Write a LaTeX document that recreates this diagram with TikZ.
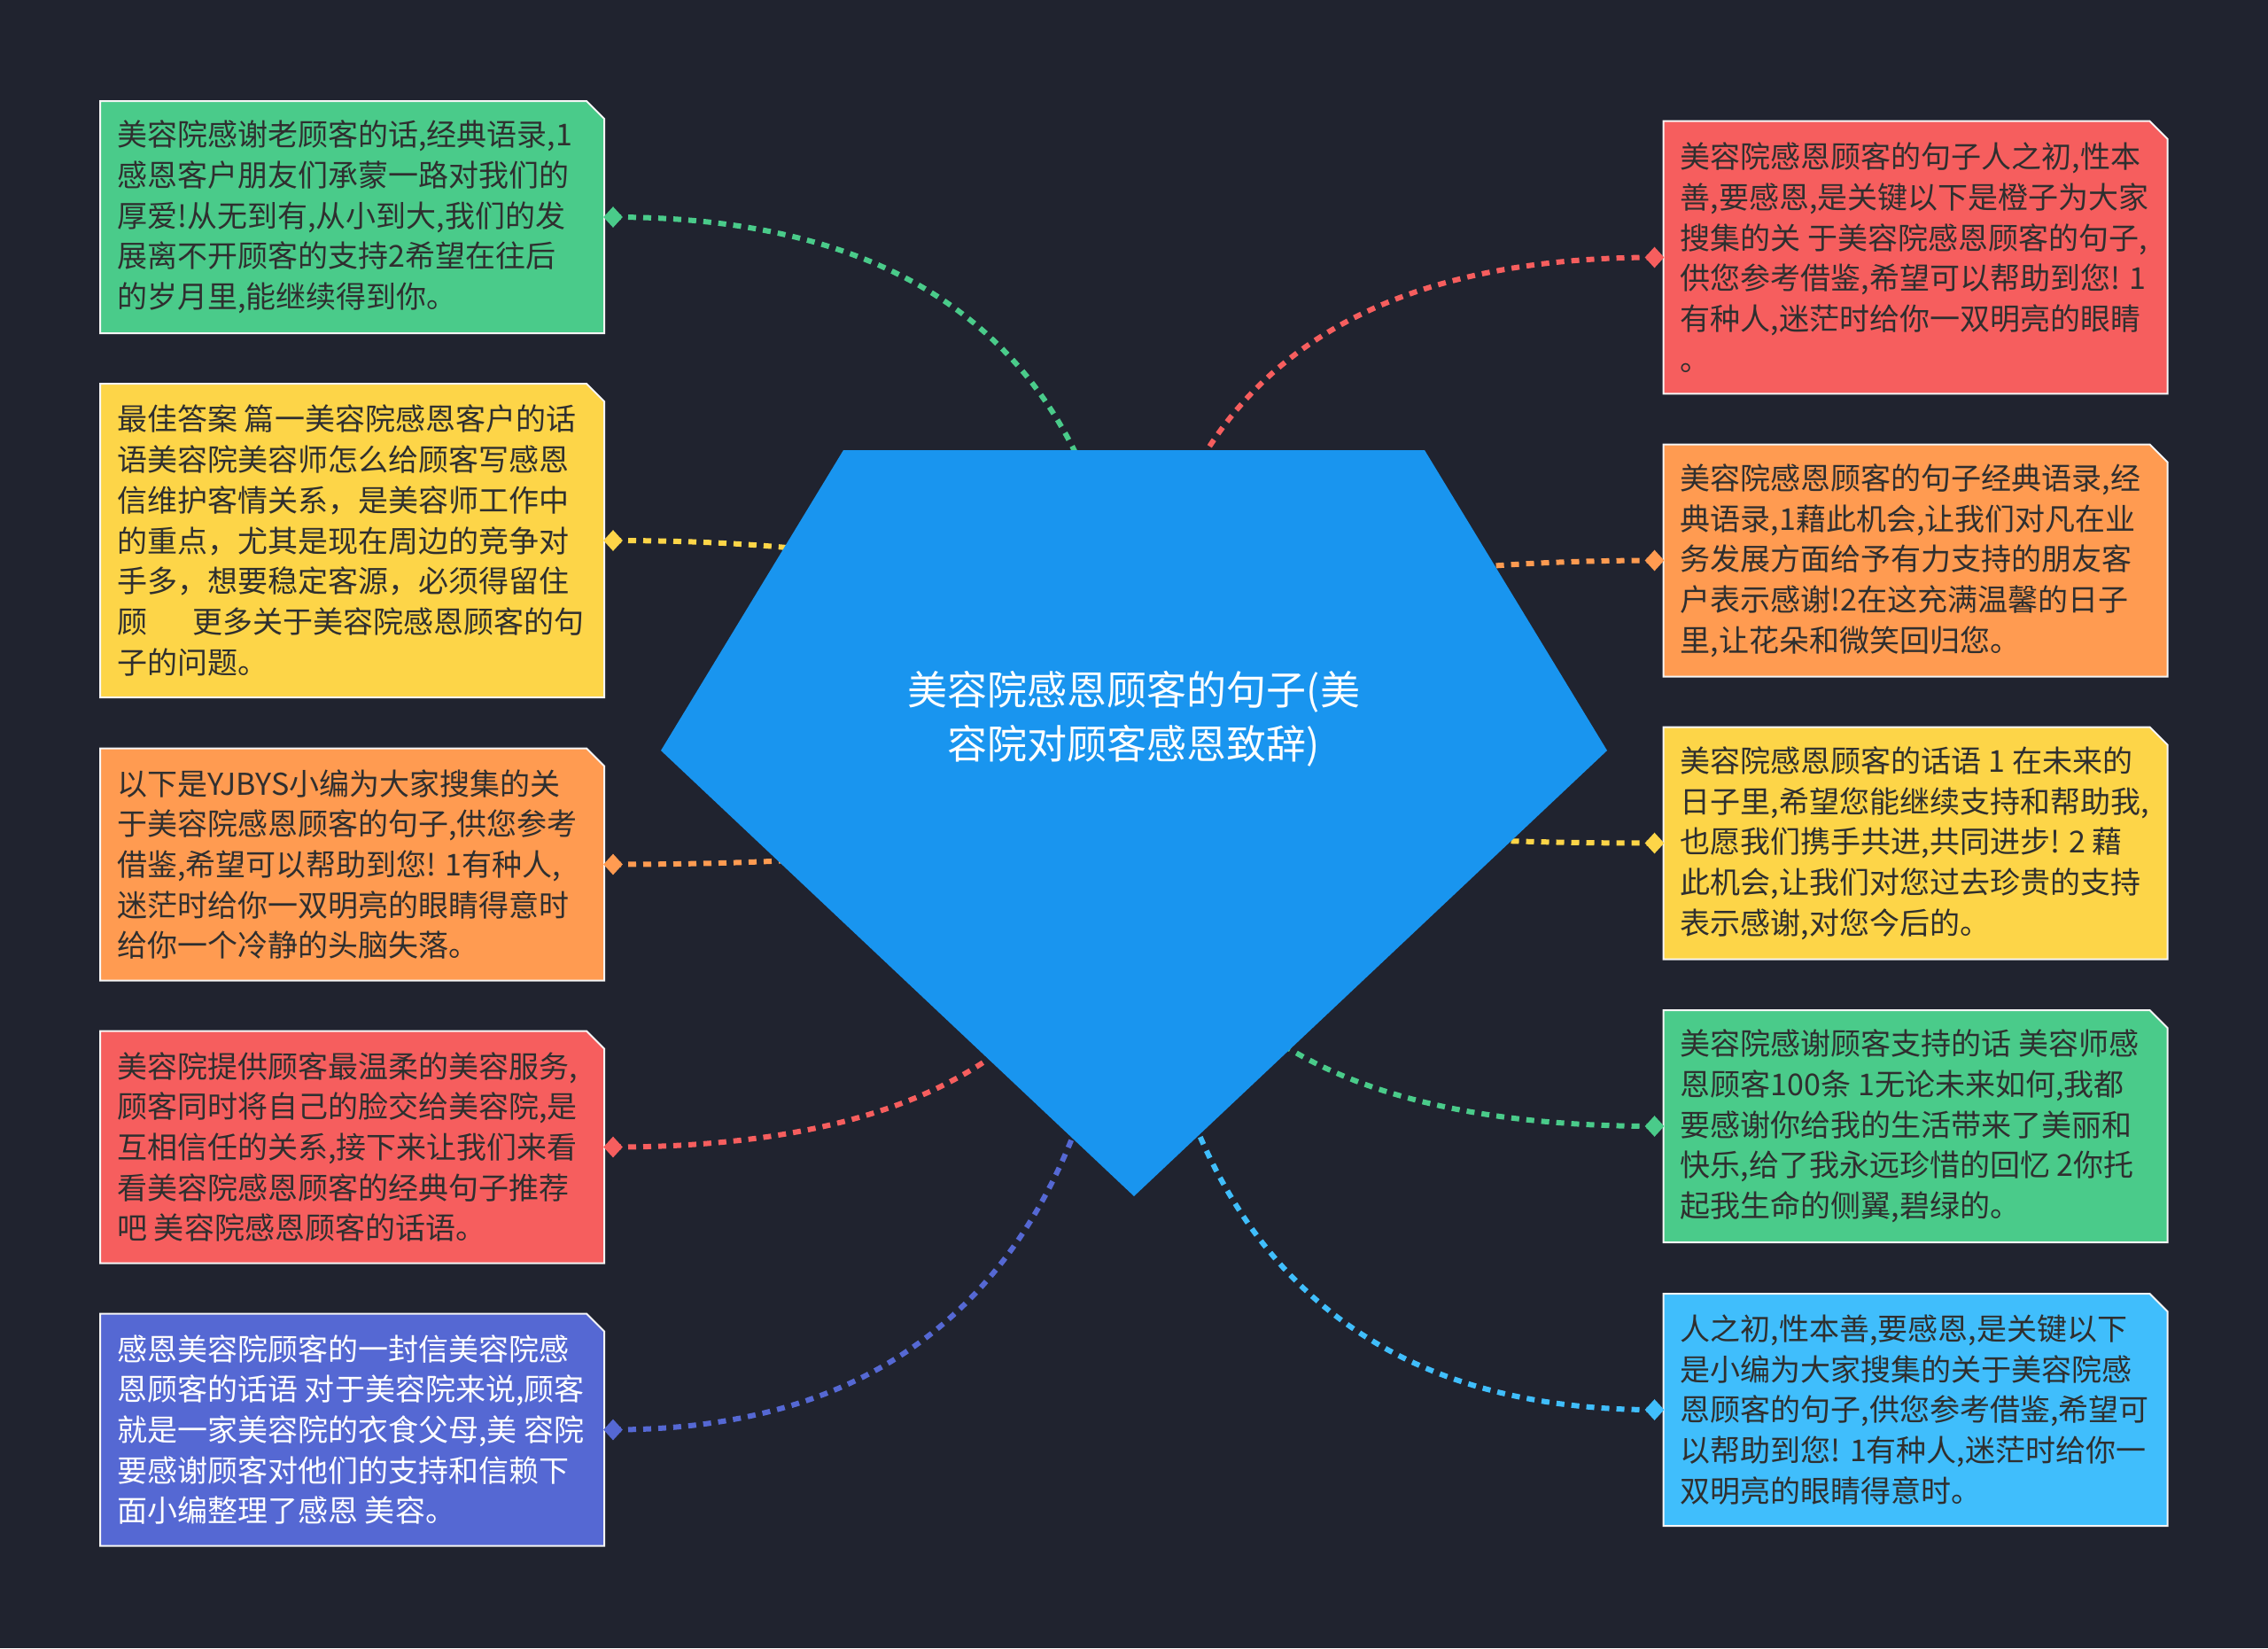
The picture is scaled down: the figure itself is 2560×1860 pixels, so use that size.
\documentclass[tikz,border=0pt]{standalone}
\usepackage{fontspec}
\newfontfamily\cjk{Noto Sans CJK SC}
\usetikzlibrary{shapes.geometric,calc}
\definecolor{bg}{HTML}{20232F}
\definecolor{cgreen}{HTML}{4ACB8A}
\definecolor{cyellow}{HTML}{FDD548}
\definecolor{corange}{HTML}{FF9B51}
\definecolor{cred}{HTML}{F65E5E}
\definecolor{cpurple}{HTML}{5568D3}
\definecolor{clblue}{HTML}{40BEFC}
\definecolor{cblue}{HTML}{1995EF}
\definecolor{tdark}{HTML}{2F2F2F}
\tikzset{
  leafframe/.style={rectangle, minimum width=284.5pt, inner sep=0pt, outer sep=0pt},
  leaftext/.style={font=\cjk\fontsize{17pt}{22.85pt}\selectfont, align=left, inner sep=0pt, anchor=west},
  conn/.style={line width=3pt, dash pattern=on 4.5pt off 4pt},
  pin/.style={diamond, inner sep=0pt, minimum width=11pt, minimum height=12pt},
  edgeline/.style={draw=white!92!gray, line width=1pt},
}
\newcommand\leaf[7]{%
  \node[leafframe, minimum height=#4] (#1) at (#2,#3) {};
  \filldraw[fill=#5, edgeline] (#1.south west) -- (#1.north west) -- ([xshift=-10pt]#1.north east) -- ([yshift=-10pt]#1.north east) -- (#1.south east) -- cycle;
  \node[leaftext, text=#6] (#1t) at ([xshift=9.5pt]#1.west) {#7};
}
\newcommand\link[2]{%
  \draw[conn, #2] (#1) .. controls ($(#1)!0.6667!(C|-#1)$) and ($(C)!0.6667!(C|-#1)$) .. (C);
}
\begin{document}
\begin{tikzpicture}[x=0.5pt, y=-0.5pt]
\fill[bg] (0,0) rectangle (2560,1860);
\useasboundingbox (0,0) rectangle (2560,1860);
\coordinate (C) at (1280,847);

% left boxes
\leaf{L1}{397.5}{245}{131pt}{cgreen}{tdark}{美容院感谢老顾客的话,经典语录,1\\感恩客户朋友们承蒙一路对我们的\\厚爱!从无到有,从小到大,我们的发\\展离不开顾客的支持2希望在往后\\的岁月里,能继续得到你。}
\leaf{L2}{397.5}{610}{177pt}{cyellow}{tdark}{最佳答案 篇一美容院感恩客户的话\\语美容院美容师怎么给顾客写感恩\\信维护客情关系，是美容师工作中\\的重点，尤其是现在周边的竞争对\\手多，想要稳定客源，必须得留住\\顾\hspace{1.5em}更多关于美容院感恩顾客的句\\子的问题。}
\leaf{L3}{397.5}{975.5}{131pt}{corange}{tdark}{以下是YJBYS小编为大家搜集的关\\于美容院感恩顾客的句子,供您参考\\借鉴,希望可以帮助到您! 1有种人,\\迷茫时给你一双明亮的眼睛得意时\\给你一个冷静的头脑失落。}
\leaf{L4}{397.5}{1294.5}{131pt}{cred}{tdark}{美容院提供顾客最温柔的美容服务,\\顾客同时将自己的脸交给美容院,是\\互相信任的关系,接下来让我们来看\\看美容院感恩顾客的经典句子推荐\\吧 美容院感恩顾客的话语。}
\leaf{L5}{397.5}{1613.5}{131pt}{cpurple}{white}{感恩美容院顾客的一封信美容院感\\恩顾客的话语 对于美容院来说,顾客\\就是一家美容院的衣食父母,美 容院\\要感谢顾客对他们的支持和信赖下\\面小编整理了感恩 美容。}

% right boxes
\leaf{R1}{2162}{290.5}{153.8pt}{cred}{tdark}{美容院感恩顾客的句子人之初,性本\\善,要感恩,是关键以下是橙子为大家\\搜集的关 于美容院感恩顾客的句子,\\供您参考借鉴,希望可以帮助到您! 1\\有种人,迷茫时给你一双明亮的眼睛\\。}
\leaf{R2}{2162}{632.5}{131pt}{corange}{tdark}{美容院感恩顾客的句子经典语录,经\\典语录,1藉此机会,让我们对凡在业\\务发展方面给予有力支持的朋友客\\户表示感谢!2在这充满温馨的日子\\里,让花朵和微笑回归您。}
\leaf{R3}{2162}{951.5}{131pt}{cyellow}{tdark}{美容院感恩顾客的话语 1 在未来的\\日子里,希望您能继续支持和帮助我,\\也愿我们携手共进,共同进步! 2 藉\\此机会,让我们对您过去珍贵的支持\\表示感谢,对您今后的。}
\leaf{R4}{2162}{1271}{131pt}{cgreen}{tdark}{美容院感谢顾客支持的话 美容师感\\恩顾客100条 1无论未来如何,我都\\要感谢你给我的生活带来了美丽和\\快乐,给了我永远珍惜的回忆 2你托\\起我生命的侧翼,碧绿的。}
\leaf{R5}{2162}{1591}{131pt}{clblue}{tdark}{人之初,性本善,要感恩,是关键以下\\是小编为大家搜集的关于美容院感\\恩顾客的句子,供您参考借鉴,希望可\\以帮助到您! 1有种人,迷茫时给你一\\双明亮的眼睛得意时。}

% pin points
\foreach \n in {L1,L2,L3,L4,L5} {\coordinate (p\n) at ([xshift=5pt]\n.east);}
\foreach \n in {R1,R2,R3,R4,R5} {\coordinate (p\n) at ([xshift=-5pt]\n.west);}

% connectors
\link{pL1}{cgreen}
\link{pL2}{cyellow}
\link{pL3}{corange}
\link{pL4}{cred}
\link{pL5}{cpurple}
\link{pR1}{cred}
\link{pR2}{corange}
\link{pR3}{cyellow}
\link{pR4}{cgreen}
\link{pR5}{clblue}

% diamonds
\node[pin, fill=cgreen] (dL1) at (pL1) {};
\node[pin, fill=cyellow] (dL2) at (pL2) {};
\node[pin, fill=corange] (dL3) at (pL3) {};
\node[pin, fill=cred] (dL4) at (pL4) {};
\node[pin, fill=cpurple] (dL5) at (pL5) {};
\node[pin, fill=cred] (dR1) at (pR1) {};
\node[pin, fill=corange] (dR2) at (pR2) {};
\node[pin, fill=cyellow] (dR3) at (pR3) {};
\node[pin, fill=cgreen] (dR4) at (pR4) {};
\node[pin, fill=clblue] (dR5) at (pR5) {};

% central gem
\fill[cblue] (952,508) -- (1608,508) -- (1814,847) -- (1280,1350) -- (746,847) -- cycle;
\node[font=\cjk\fontsize{22.5pt}{30.5pt}\selectfont, text=white, align=center, inner sep=0pt] (root) at (1280,811) {美容院感恩顾客的句子(美\\容院对顾客感恩致辞)};
\end{tikzpicture}
\end{document}
